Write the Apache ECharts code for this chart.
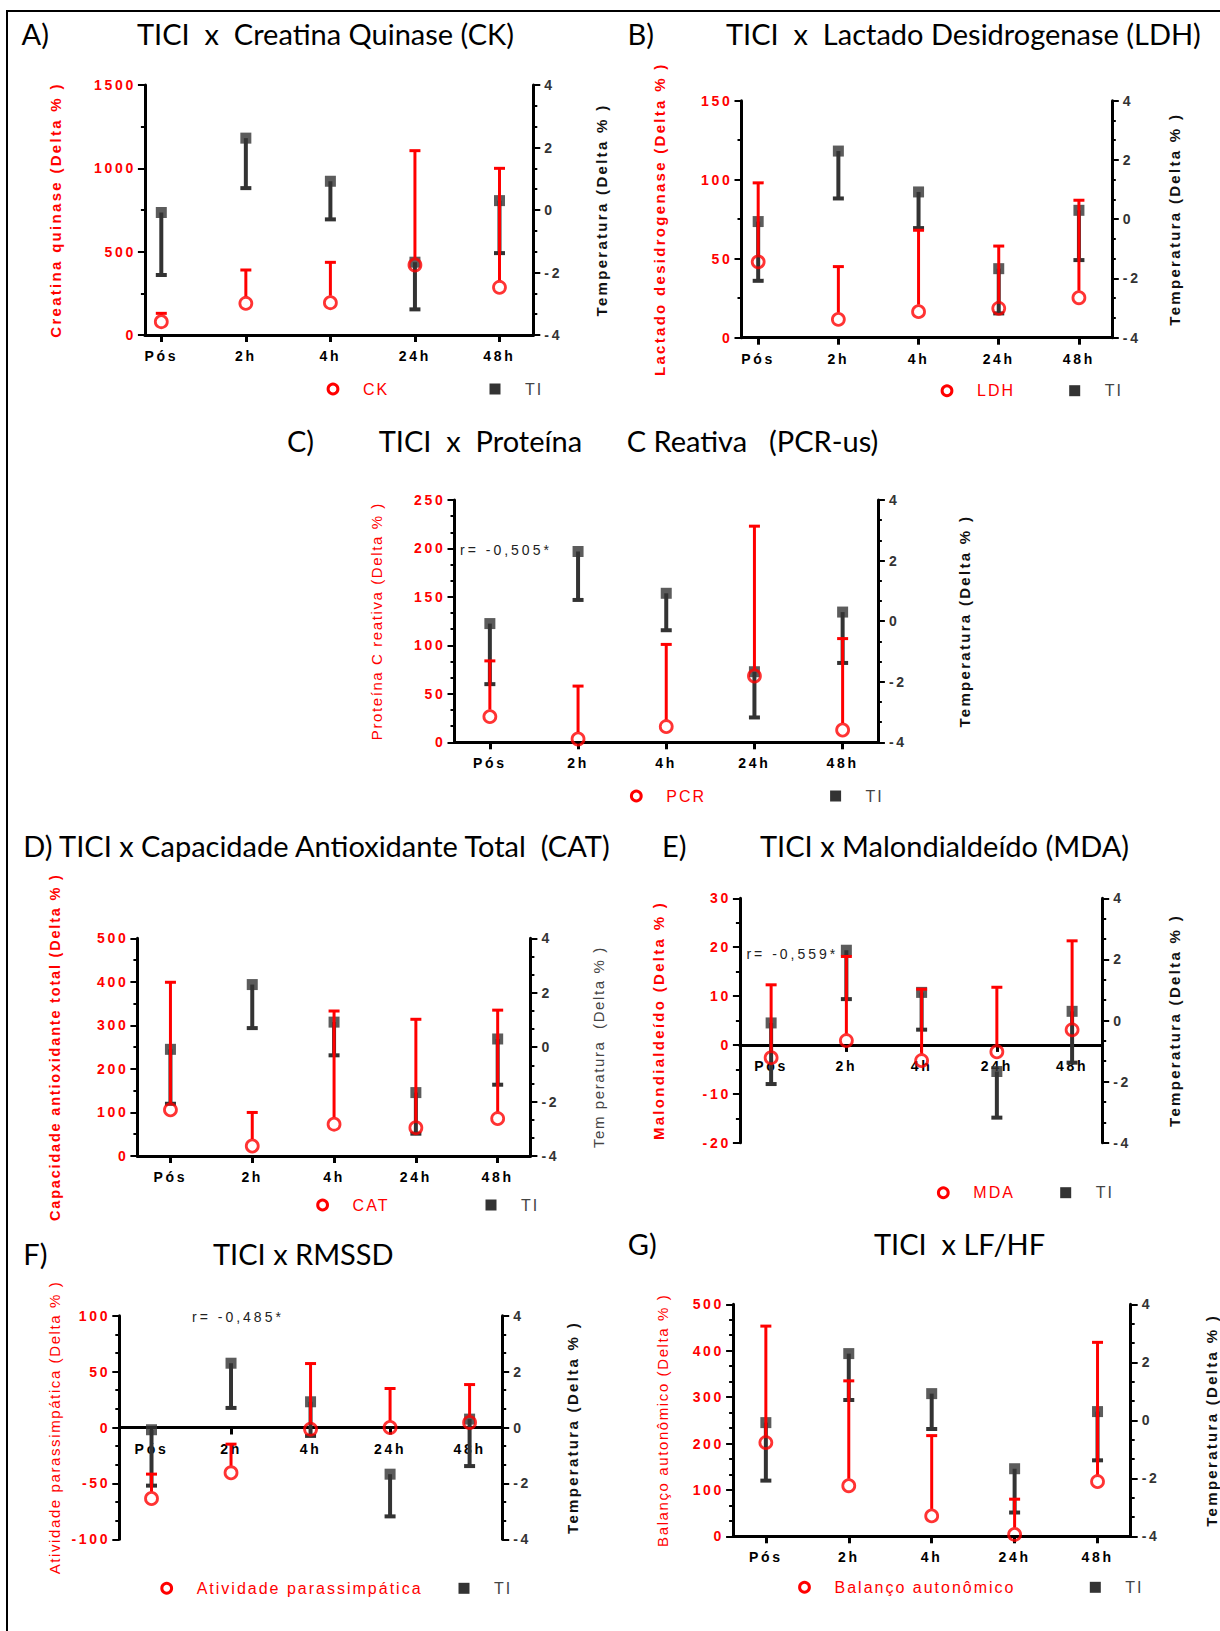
<!DOCTYPE html>
<html>
<head>
<meta charset="utf-8">
<script src="https://cdn.jsdelivr.net/npm/echarts@6/dist/echarts.min.js"></script>
<style>
  html, body { margin: 0; padding: 0; background: #fff; }
  #chart { width: 1220px; height: 1631px; }
  /* wide tracking for the Prism-style axis texts */
  #chart text[style*="14px"] { letter-spacing: 3px; }
  #chart text[style*="bold"][style*="14px"] { letter-spacing: 2.7px; }
  #chart text[style*="bold"][style*="14.5px"] { letter-spacing: 1.8px; }
  #chart text[style*="15px"] { letter-spacing: 1.6px; }
  #chart text[style*="bold"][style*="15px"] { letter-spacing: 2.3px; }
  #chart text[style*="16px"] { letter-spacing: 2px; }
</style>
</head>
<body>
<div id="chart"></div>
<script>
// ---- data ----------------------------------------------------------------
const categories = ['Pós', '2h', '4h', '24h', '48h'];
const catIndex = [0, 1, 2, 3, 4];

// skin temperature (TI), mean and SD (bars drawn downward)
const tiMean = [-0.08, 2.3, 0.92, -1.67, 0.3];
const tiSd = [2.0, 1.6, 1.22, 1.51, 1.68];

// markers, mean and SD (bars drawn upward)
const ckMean = [80, 190, 194, 420, 286];
const ckSd = [50, 200, 242, 686, 714];
const ldhMean = [48, 11.6, 16.5, 18.6, 25.3];
const ldhSd = [50, 33.4, 51.5, 39.4, 61.7];
const pcrMean = [26.5, 3.4, 16.2, 68.4, 12.7];
const pcrSd = [57.5, 54.6, 84.8, 154.6, 94.3];
const catMean = [106, 23, 73, 65, 86];
const catSd = [293, 77, 260, 249, 249];
const mdaMean = [-2.6, 0.9, -3.2, -1.4, 3.1];
const mdaSd = [14.9, 17.2, 14.6, 13.2, 18.2];
const rmssdMean = [-63.5, -40.5, -1.5, 0, 4.5];
const rmssdSd = [21.8, 25.6, 58.7, 34.9, 33.9];
const lfhfMean = [202, 109, 44, 4, 118];
const lfhfSd = [251, 226, 173, 76, 300];

// axis ranges: [min, max, interval]
const tempAxis = [-4, 4, 2];
const ckAxis = [0, 1500, 500];
const ldhAxis = [0, 150, 50];
const pcrAxis = [0, 250, 50];
const catAxis = [0, 500, 100];
const mdaAxis = [-20, 30, 10];
const rmssdAxis = [-100, 100, 50];
const lfhfAxis = [0, 500, 100];

// ---- styling ---------------------------------------------------------------
const RED = '#ff0000';
const DARK = '#333333';
const SANS = 'Liberation Sans';
const TITLE_FONT = '29px Lato';

const panels = [
  { grid: [144.9, 85, 388.4, 250], xRange: [-0.194, 4.40], mean: ckMean, sd: ckSd, axis: ckAxis, minor: 2,
    name: 'CK', yName: 'Creatina quinase (Delta % )', yBold: true, yGap: 82,
    rName: 'Temperatura (Delta % )', rBold: true, rGap: 61, legend: [333, 495, 389], zero: false },
  { grid: [741.5, 100.7, 370.3, 237], xRange: [-0.208, 4.41], mean: ldhMean, sd: ldhSd, axis: ldhAxis, minor: 2,
    name: 'LDH', yName: 'Lactado desidrogenase (Delta % )', yBold: true, yGap: 74.5,
    rName: 'Temperatura (Delta % )', rBold: true, rGap: 55, legend: [947, 1074.7, 390.7], zero: false },
  { grid: [454.5, 500, 423.4, 242.3], xRange: [-0.401, 4.40], mean: pcrMean, sd: pcrSd, axis: pcrAxis, minor: 3,
    name: 'PCR', yName: 'Proteína C reativa (Delta % )', yBold: false, yGap: 70.6,
    rName: 'Temperatura (Delta % )', rBold: true, rGap: 78.8, legend: [636.3, 835.6, 796], zero: false },
  { grid: [137.4, 938.3, 393, 217.7], xRange: [-0.404, 4.40], mean: catMean, sd: catSd, axis: catAxis, minor: 2,
    name: 'CAT', yName: 'Capacidade antioxidante total (Delta % )', yBold: true, yGap: 75.3, ySize: 14.5,
    rName: 'Tem peratura  (Delta % )', rBold: false, rGray: true, rGap: 60.8, legend: [322.6, 491, 1205], zero: false },
  { grid: [739.9, 898.3, 362.3, 244.4], xRange: [-0.415, 4.40], mean: mdaMean, sd: mdaSd, axis: mdaAxis, minor: 2,
    name: 'MDA', yName: 'Malondialdeído (Delta % )', yBold: true, yGap: 74.2,
    rName: 'Temperatura (Delta % )', rBold: true, rGap: 64.5, legend: [943.3, 1065.7, 1192.7], zero: true },
  { grid: [119.3, 1315.7, 382.9, 223.6], xRange: [-0.405, 4.41], mean: rmssdMean, sd: rmssdSd, axis: rmssdAxis, minor: 3,
    name: 'Atividade parassimpática', yName: 'Atividade parassimpática (Delta % )', yBold: false, yGap: 57.6,
    rName: 'Temperatura (Delta % )', rBold: true, rGap: 62.9, legend: [166.7, 464, 1588.3], zero: true },
  { grid: [733.1, 1304.3, 402.1, 232], xRange: [-0.395, 4.40], mean: lfhfMean, sd: lfhfSd, axis: lfhfAxis, minor: 3,
    name: 'Balanço autonômico', yName: 'Balanço autonômico (Delta % )', yBold: false, yGap: 63.6,
    rName: 'Temperatura (Delta % )', rBold: true, rGap: 73.3, legend: [804.5, 1095.3, 1587.3], zero: false }
];

const titles = [
  ['A)', 21.5, 33], ['TICI  x  Creatina Quinase (CK)', 137, 33],
  ['B)', 627.5, 33], ['TICI  x  Lactado Desidrogenase (LDH)', 726, 33],
  ['C)', 287, 440], ['TICI  x  Proteína', 378.7, 440], ['C Reativa', 626.7, 440], ['(PCR-us)', 769, 440],
  ['D) TICI x Capacidade Antioxidante Total  (CAT)', 23.3, 845],
  ['E)', 662, 845], ['TICI x Malondialdeído (MDA)', 760, 845],
  ['F)', 23.3, 1253], ['TICI x RMSSD', 213, 1253],
  ['G)', 627.8, 1243], ['TICI  x LF/HF', 874, 1243]
];

const corrLabels = [
  ['r= -0,505*', 460, 550],
  ['r= -0,559*', 746.4, 954],
  ['r= -0,485*', 192, 1317.3]
];

// vertical SD bar with a cap; dir = +1 up, -1 down; gap keeps the stem off hollow symbols
function sdBar(dir, gap, color, width, cap) {
  return function (params, api) {
    const x = api.value(0), m = api.value(1), s = api.value(2);
    const p0 = api.coord([x, m]);
    const p1 = api.coord([x, m + dir * s]);
    const y0 = p0[1] - dir * gap;
    return {
      type: 'group',
      children: [
        { type: 'line', shape: { x1: p0[0], y1: y0, x2: p1[0], y2: p1[1] },
          style: { stroke: color, lineWidth: width } },
        { type: 'line', shape: { x1: p1[0] - cap / 2, y1: p1[1], x2: p1[0] + cap / 2, y2: p1[1] },
          style: { stroke: color, lineWidth: width } }
      ]
    };
  };
}

const numLabel = v => String(Math.round(v * 1000) / 1000);

const option = {
  animation: false,
  backgroundColor: '#ffffff',
  grid: [], xAxis: [], yAxis: [], series: [], graphic: []
};

panels.forEach((p, i) => {
  const [gl, gt, gw, gh] = p.grid;
  option.grid.push({ left: gl, top: gt, width: gw, height: gh, containLabel: false });

  // where the category axis sits: grid bottom, or the zero of the left scale
  const zeroOffset = p.zero ? -gh * (0 - p.axis[0]) / (p.axis[1] - p.axis[0]) : 0;

  option.xAxis.push({
    type: 'value', gridIndex: i, min: p.xRange[0], max: p.xRange[1],
    position: 'bottom', offset: zeroOffset,
    splitLine: { show: false },
    axisLine: { show: true, onZero: false, lineStyle: { color: '#000', width: 3 } },
    axisTick: { show: true, customValues: catIndex, length: 7, lineStyle: { color: '#000', width: 3 } },
    axisLabel: { customValues: catIndex, formatter: v => categories[Math.round(v)], color: '#000',
      fontWeight: 'bold', fontSize: 14, fontFamily: SANS, margin: 14 }
  });

  const common = {
    type: 'value', gridIndex: i, splitLine: { show: false },
    axisLine: { show: true, onZero: false, lineStyle: { color: '#000', width: 3 } },
    axisTick: { show: true, length: 7, lineStyle: { color: '#000', width: 2 } },
    nameLocation: 'middle', nameRotate: 90
  };

  option.yAxis.push(Object.assign({}, common, {
    position: 'left', min: p.axis[0], max: p.axis[1], interval: p.axis[2],
    minorTick: { show: true, splitNumber: p.minor, length: 4, lineStyle: { color: '#000', width: 2 } },
    axisLabel: { color: RED, fontWeight: 'bold', fontSize: 14, fontFamily: SANS, margin: 9, formatter: numLabel },
    name: p.yName, nameGap: p.yGap,
    nameTextStyle: { color: RED, fontWeight: p.yBold ? 'bold' : 'normal', fontSize: p.ySize || 15, fontFamily: SANS }
  }));

  option.yAxis.push(Object.assign({}, common, {
    position: 'right', min: tempAxis[0], max: tempAxis[1], interval: tempAxis[2],
    minorTick: { show: true, splitNumber: 3, length: 4, lineStyle: { color: '#000', width: 2 } },
    axisLabel: { color: DARK, fontWeight: 'bold', fontSize: 14, fontFamily: SANS, margin: 11, formatter: numLabel },
    name: p.rName, nameGap: p.rGap,
    nameTextStyle: { color: p.rGray ? '#444' : '#111', fontWeight: p.rBold ? 'bold' : 'normal',
      fontSize: 15, fontFamily: SANS }
  }));

  const xi = i, yl = 2 * i, yr = 2 * i + 1;

  option.series.push({
    type: 'custom', xAxisIndex: xi, yAxisIndex: yr, z: 2, silent: true,
    renderItem: sdBar(-1, 0, DARK, 4, 11),
    encode: { x: 0, y: 1 },
    data: tiMean.map((m, k) => [catIndex[k], m, tiSd[k]])
  });
  option.series.push({
    type: 'scatter', name: 'TI', xAxisIndex: xi, yAxisIndex: yr, z: 3,
    symbol: 'rect', symbolSize: 11, itemStyle: { color: DARK },
    data: tiMean.map((m, k) => [catIndex[k], m])
  });
  option.series.push({
    type: 'custom', xAxisIndex: xi, yAxisIndex: yl, z: 4, silent: true,
    renderItem: sdBar(1, 7, RED, 3, 11),
    encode: { x: 0, y: 1 },
    data: p.mean.map((m, k) => [catIndex[k], m, p.sd[k]])
  });
  option.series.push({
    type: 'scatter', name: p.name, xAxisIndex: xi, yAxisIndex: yl, z: 5,
    symbol: 'circle', symbolSize: 12,
    itemStyle: { color: 'rgba(255,255,255,0)', borderColor: RED, borderWidth: 2.8 },
    data: p.mean.map((m, k) => [catIndex[k], m])
  });

  // key below each panel: hollow red circle for the marker, dark square for TI
  const [cx, tx, ly] = p.legend;
  option.graphic.push(
    { type: 'circle', shape: { cx: cx, cy: ly, r: 4.9 }, style: { fill: 'none', stroke: RED, lineWidth: 3 } },
    { type: 'text', x: cx + 30, y: ly, style: { text: p.name, fontSize: 16, fontFamily: SANS, fill: RED,
      align: 'left', verticalAlign: 'middle' } },
    { type: 'rect', shape: { x: tx - 5.5, y: ly - 5.5, width: 11, height: 11 }, style: { fill: DARK } },
    { type: 'text', x: tx + 30, y: ly, style: { text: 'TI', fontSize: 16, fontFamily: SANS, fill: '#444',
      align: 'left', verticalAlign: 'middle' } }
  );
});

// figure frame (top and left rules)
option.graphic.push({ type: 'line', shape: { x1: 6, y1: 11, x2: 1220, y2: 11 }, style: { stroke: '#000', lineWidth: 2 } });
option.graphic.push({ type: 'line', shape: { x1: 7, y1: 10, x2: 7, y2: 1631 }, style: { stroke: '#000', lineWidth: 2 } });

titles.forEach(([t, x, y]) => {
  option.graphic.push({ type: 'text', x: x, y: y,
    style: { text: t, font: TITLE_FONT, fill: '#000', align: 'left', verticalAlign: 'middle' } });
});
corrLabels.forEach(([t, x, y]) => {
  option.graphic.push({ type: 'text', x: x, y: y,
    style: { text: t, fontSize: 14, fontFamily: SANS, fill: '#222', align: 'left', verticalAlign: 'middle' } });
});

const chart = echarts.init(document.getElementById('chart'), null, { renderer: 'svg', width: 1220, height: 1631 });
chart.setOption(option);
</script>
</body>
</html>
